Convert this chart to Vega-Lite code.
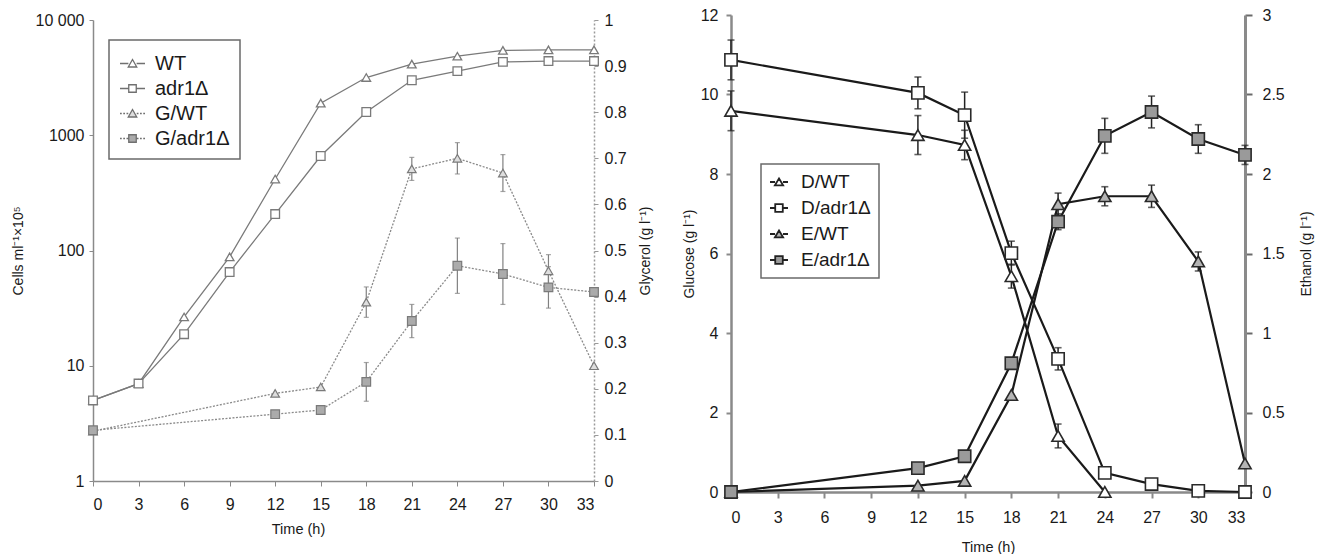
{
  "$schema": "https://vega.github.io/schema/vega-lite/v6.json",
  "background": "white",
  "padding": {"left": 11, "top": 7, "right": 5, "bottom": 5},
  "bounds": "flush",
  "spacing": 137,
  "config": {
    "view": {"stroke": null},
    "font": "Liberation Sans",
    "axis": {"grid": false, "labelFont": "Liberation Sans", "titleFont": "Liberation Sans", "labelColor": "#1a1a1a", "titleColor": "#1a1a1a", "titleFontWeight": "normal", "labelFontSize": 16, "titleFontSize": 15},
    "legend": {"labelFont": "Liberation Sans", "labelColor": "#1a1a1a", "strokeWidth": 1.5}
  },
  "datasets": {
    "left": [
      {"s": "WT", "t": 0, "v": 5}, {"s": "WT", "t": 3, "v": 7}, {"s": "WT", "t": 6, "v": 26.5}, {"s": "WT", "t": 9, "v": 88},
      {"s": "WT", "t": 12, "v": 417}, {"s": "WT", "t": 15, "v": 1900}, {"s": "WT", "t": 18, "v": 3170}, {"s": "WT", "t": 21, "v": 4140},
      {"s": "WT", "t": 24, "v": 4850}, {"s": "WT", "t": 27, "v": 5450}, {"s": "WT", "t": 30, "v": 5500}, {"s": "WT", "t": 33, "v": 5500},
      {"s": "adr1Δ", "t": 0, "v": 5}, {"s": "adr1Δ", "t": 3, "v": 7}, {"s": "adr1Δ", "t": 6, "v": 18.8}, {"s": "adr1Δ", "t": 9, "v": 65},
      {"s": "adr1Δ", "t": 12, "v": 207}, {"s": "adr1Δ", "t": 15, "v": 660}, {"s": "adr1Δ", "t": 18, "v": 1590}, {"s": "adr1Δ", "t": 21, "v": 3000},
      {"s": "adr1Δ", "t": 24, "v": 3600}, {"s": "adr1Δ", "t": 27, "v": 4330}, {"s": "adr1Δ", "t": 30, "v": 4400}, {"s": "adr1Δ", "t": 33, "v": 4400},
      {"s": "G/WT", "t": 0, "v": 0.108}, {"s": "G/WT", "t": 12, "v": 0.19}, {"s": "G/WT", "t": 15, "v": 0.204},
      {"s": "G/WT", "t": 18, "v": 0.388, "lo": 0.355, "hi": 0.421}, {"s": "G/WT", "t": 21, "v": 0.677, "lo": 0.652, "hi": 0.702},
      {"s": "G/WT", "t": 24, "v": 0.70, "lo": 0.666, "hi": 0.734}, {"s": "G/WT", "t": 27, "v": 0.668, "lo": 0.628, "hi": 0.708},
      {"s": "G/WT", "t": 30, "v": 0.456, "lo": 0.421, "hi": 0.491}, {"s": "G/WT", "t": 33, "v": 0.25},
      {"s": "G/adr1Δ", "t": 0, "v": 0.11}, {"s": "G/adr1Δ", "t": 12, "v": 0.145}, {"s": "G/adr1Δ", "t": 15, "v": 0.154},
      {"s": "G/adr1Δ", "t": 18, "v": 0.215, "lo": 0.173, "hi": 0.257}, {"s": "G/adr1Δ", "t": 21, "v": 0.347, "lo": 0.311, "hi": 0.383},
      {"s": "G/adr1Δ", "t": 24, "v": 0.467, "lo": 0.407, "hi": 0.527}, {"s": "G/adr1Δ", "t": 27, "v": 0.449, "lo": 0.383, "hi": 0.515},
      {"s": "G/adr1Δ", "t": 30, "v": 0.42, "lo": 0.375, "hi": 0.465}, {"s": "G/adr1Δ", "t": 33, "v": 0.41}
    ],
    "right": [
      {"s": "D/WT", "t": 0, "v": 9.59, "lo": 9.09, "hi": 10.09}, {"s": "D/WT", "t": 12, "v": 8.98, "lo": 8.49, "hi": 9.47},
      {"s": "D/WT", "t": 15, "v": 8.73, "lo": 8.36, "hi": 9.1}, {"s": "D/WT", "t": 18, "v": 5.43, "lo": 5.13, "hi": 5.73},
      {"s": "D/WT", "t": 21, "v": 1.41, "lo": 1.11, "hi": 1.71}, {"s": "D/WT", "t": 24, "v": 0},
      {"s": "D/adr1Δ", "t": 0, "v": 10.87, "lo": 10.37, "hi": 11.37}, {"s": "D/adr1Δ", "t": 12, "v": 10.04, "lo": 9.64, "hi": 10.44},
      {"s": "D/adr1Δ", "t": 15, "v": 9.48, "lo": 8.9, "hi": 10.06}, {"s": "D/adr1Δ", "t": 18, "v": 6.01, "lo": 5.71, "hi": 6.31},
      {"s": "D/adr1Δ", "t": 21, "v": 3.35, "lo": 3.07, "hi": 3.63}, {"s": "D/adr1Δ", "t": 24, "v": 0.48},
      {"s": "D/adr1Δ", "t": 27, "v": 0.2}, {"s": "D/adr1Δ", "t": 30, "v": 0.03}, {"s": "D/adr1Δ", "t": 33, "v": 0},
      {"s": "E/WT", "t": 0, "v": 0}, {"s": "E/WT", "t": 12, "v": 0.04}, {"s": "E/WT", "t": 15, "v": 0.07}, {"s": "E/WT", "t": 18, "v": 0.61},
      {"s": "E/WT", "t": 21, "v": 1.81, "lo": 1.74, "hi": 1.88}, {"s": "E/WT", "t": 24, "v": 1.86, "lo": 1.8, "hi": 1.92},
      {"s": "E/WT", "t": 27, "v": 1.86, "lo": 1.79, "hi": 1.93}, {"s": "E/WT", "t": 30, "v": 1.45, "lo": 1.39, "hi": 1.51},
      {"s": "E/WT", "t": 33, "v": 0.18},
      {"s": "E/adr1Δ", "t": 0, "v": 0}, {"s": "E/adr1Δ", "t": 12, "v": 0.15}, {"s": "E/adr1Δ", "t": 15, "v": 0.225}, {"s": "E/adr1Δ", "t": 18, "v": 0.81},
      {"s": "E/adr1Δ", "t": 21, "v": 1.70, "lo": 1.65, "hi": 1.75}, {"s": "E/adr1Δ", "t": 24, "v": 2.24, "lo": 2.13, "hi": 2.35},
      {"s": "E/adr1Δ", "t": 27, "v": 2.39, "lo": 2.29, "hi": 2.49}, {"s": "E/adr1Δ", "t": 30, "v": 2.22, "lo": 2.13, "hi": 2.31},
      {"s": "E/adr1Δ", "t": 33, "v": 2.12, "lo": 2.06, "hi": 2.18}
    ]
  },
  "hconcat": [
    {
      "width": 501,
      "height": 466,
      "data": {"name": "left"},
      "encoding": {
        "x": {"field": "t", "type": "quantitative", "scale": {"domain": [0, 33], "nice": false},
          "axis": {"values": [0, 3, 6, 9, 12, 15, 18, 21, 24, 27, 30, 33], "title": "Time (h)", "titleX": 205, "domainColor": "#8a8a8a", "domainWidth": 1.5, "tickColor": "#8a8a8a", "tickSize": 5, "labelPadding": 10, "titlePadding": 10, "titleFontSize": 14.5}}
      },
      "layer": [
        {
          "transform": [{"filter": {"field": "s", "oneOf": ["WT", "adr1Δ"]}}],
          "encoding": {
            "y": {"field": "v", "type": "quantitative", "title": "Cells ml⁻¹×10⁵",
              "scale": {"type": "log", "domain": [1, 10000], "range": [466, 5], "nice": false},
              "axis": {"orient": "left", "values": [1, 10, 100, 1000, 10000], "format": "d", "labelExpr": "datum.value == 10000 ? '10 000' : datum.label", "domainColor": "#8a8a8a", "domainWidth": 1.5, "tickColor": "#8a8a8a", "tickSize": 4, "labelPadding": 5, "titlePadding": 10, "titleFontSize": 14}}
          },
          "layer": [
            {"mark": {"type": "line", "stroke": "#7a7a7a", "strokeWidth": 1.3}, "encoding": {"detail": {"field": "s"}}},
            {"mark": {"type": "point", "filled": true, "fill": "white", "stroke": "#7a7a7a", "strokeWidth": 1.3, "size": 75, "opacity": 1},
              "encoding": {"shape": {"field": "s", "type": "nominal", "scale": {"domain": ["WT", "adr1Δ"], "range": ["triangle-up", "square"]}, "legend": null}}}
          ]
        },
        {
          "transform": [{"filter": {"field": "s", "oneOf": ["G/WT", "G/adr1Δ"]}}],
          "encoding": {
            "y": {"field": "v", "type": "quantitative", "title": "Glycerol (g l⁻¹)",
              "scale": {"domain": [0, 1], "range": [466, 5], "nice": false},
              "axis": {"orient": "right", "values": [0, 0.1, 0.2, 0.3, 0.4, 0.5, 0.6, 0.7, 0.8, 0.9, 1], "format": "~g", "domainColor": "#9a9a9a", "domainDash": [2, 2], "domainWidth": 1.5, "tickColor": "#9a9a9a", "tickSize": 4, "labelPadding": 6, "titlePadding": 12, "titleFontSize": 14, "titleAngle": 270, "titleBaseline": "top"}}
          },
          "layer": [
            {"transform": [{"filter": "isValid(datum.lo)"}], "mark": {"type": "rule", "stroke": "#808080", "strokeWidth": 1.2},
              "encoding": {"y": {"field": "lo", "type": "quantitative", "title": "Glycerol (g l⁻¹)"}, "y2": {"field": "hi"}}},
            {"transform": [{"filter": "isValid(datum.lo)"}], "mark": {"type": "tick", "orient": "horizontal", "size": 5, "thickness": 1.2, "color": "#808080"},
              "encoding": {"y": {"field": "lo", "type": "quantitative", "title": "Glycerol (g l⁻¹)"}}},
            {"transform": [{"filter": "isValid(datum.lo)"}], "mark": {"type": "tick", "orient": "horizontal", "size": 5, "thickness": 1.2, "color": "#808080"},
              "encoding": {"y": {"field": "hi", "type": "quantitative", "title": "Glycerol (g l⁻¹)"}}},
            {"mark": {"type": "line", "stroke": "#8a8a8a", "strokeWidth": 1.3, "strokeDash": [2, 1.5]}, "encoding": {"detail": {"field": "s"}}},
            {"mark": {"type": "point", "filled": true, "stroke": "#7a7a7a", "strokeWidth": 1.2, "size": 75, "opacity": 1},
              "encoding": {
                "shape": {"field": "s", "type": "nominal", "scale": {"domain": ["G/WT", "G/adr1Δ"], "range": ["triangle-up", "square"]}, "legend": null},
                "fill": {"field": "s", "type": "nominal", "scale": {"domain": ["G/WT", "G/adr1Δ"], "range": ["#dedede", "#ababab"]}, "legend": null}}}
          ]
        },
        {
          "mark": {"type": "point", "filled": true, "stroke": "#707070", "strokeWidth": 1.3, "opacity": 0},
          "encoding": {
            "shape": {"field": "s", "type": "nominal",
              "scale": {"domain": ["WT", "adr1Δ", "G/WT", "G/adr1Δ"],
                "range": [
                  "M-1,0H-0.33M0.33,0H1M0,-0.32L0.34,0.28L-0.34,0.28Z",
                  "M-1,0H-0.3M0.3,0H1M-0.3,-0.3H0.3V0.3H-0.3Z",
                  "M-1,0H-0.86M-0.74,0H-0.6M-0.48,0H-0.34M0.34,0H0.48M0.6,0H0.74M0.86,0H1M0,-0.32L0.34,0.28L-0.34,0.28Z",
                  "M-1,0H-0.86M-0.74,0H-0.6M-0.48,0H-0.32M0.32,0H0.48M0.6,0H0.74M0.86,0H1M-0.3,-0.3H0.3V0.3H-0.3Z"
                ]},
              "legend": {"title": null, "orient": "none", "legendX": 16, "legendY": 25, "padding": 10, "strokeColor": "#6a6a6a", "fillColor": "white", "symbolSize": 625, "symbolStrokeWidth": 1.3, "labelFontSize": 20, "rowPadding": 1, "labelOffset": 9, "labelLimit": 200}},
            "color": {"field": "s", "type": "nominal",
              "scale": {"domain": ["WT", "adr1Δ", "G/WT", "G/adr1Δ"], "range": ["white", "white", "#dedede", "#ababab"]},
              "legend": {"title": null, "orient": "none", "legendX": 16, "legendY": 25, "padding": 10, "strokeColor": "#6a6a6a", "fillColor": "white", "symbolSize": 625, "symbolStrokeWidth": 1.3, "labelFontSize": 20, "rowPadding": 1, "labelOffset": 9, "labelLimit": 200}}
          }
        }
      ],
      "resolve": {"scale": {"y": "independent", "shape": "independent", "fill": "independent", "color": "independent"}}
    },
    {
      "width": 514,
      "height": 477,
      "data": {"name": "right"},
      "encoding": {
        "x": {"field": "t", "type": "quantitative", "scale": {"domain": [0, 33], "nice": false},
          "axis": {"values": [0, 3, 6, 9, 12, 15, 18, 21, 24, 27, 30, 33], "title": "Time (h)", "domainColor": "#8a8a8a", "domainWidth": 2.5, "tickColor": "#8a8a8a", "tickWidth": 2, "tickSize": 6, "labelPadding": 11, "titlePadding": 15, "titleFontSize": 14.5}}
      },
      "layer": [
        {
          "transform": [{"filter": {"field": "s", "oneOf": ["D/WT", "D/adr1Δ"]}}],
          "encoding": {
            "y": {"field": "v", "type": "quantitative", "title": "Glucose (g l⁻¹)",
              "scale": {"domain": [0, 12], "nice": false},
              "axis": {"orient": "left", "values": [0, 2, 4, 6, 8, 10, 12], "domainColor": "#8a8a8a", "domainWidth": 2.5, "tickColor": "#8a8a8a", "tickWidth": 2, "tickSize": 5, "labelPadding": 8, "titlePadding": 4, "titleFontSize": 14}}
          },
          "layer": [
            {"transform": [{"filter": "isValid(datum.lo)"}], "mark": {"type": "rule", "stroke": "#222", "strokeWidth": 1.5},
              "encoding": {"y": {"field": "lo", "type": "quantitative", "title": "Glucose (g l⁻¹)"}, "y2": {"field": "hi"}}},
            {"transform": [{"filter": "isValid(datum.lo)"}], "mark": {"type": "tick", "orient": "horizontal", "size": 7, "thickness": 1.6, "color": "#222"},
              "encoding": {"y": {"field": "lo", "type": "quantitative", "title": "Glucose (g l⁻¹)"}}},
            {"transform": [{"filter": "isValid(datum.lo)"}], "mark": {"type": "tick", "orient": "horizontal", "size": 7, "thickness": 1.6, "color": "#222"},
              "encoding": {"y": {"field": "hi", "type": "quantitative", "title": "Glucose (g l⁻¹)"}}},
            {"mark": {"type": "line", "stroke": "#1a1a1a", "strokeWidth": 2.2}, "encoding": {"detail": {"field": "s"}}},
            {"mark": {"type": "point", "filled": true, "fill": "white", "stroke": "#2a2a2a", "strokeWidth": 1.6, "size": 150, "opacity": 1},
              "encoding": {"shape": {"field": "s", "type": "nominal", "scale": {"domain": ["D/WT", "D/adr1Δ"], "range": ["triangle-up", "square"]}, "legend": null}}}
          ]
        },
        {
          "transform": [{"filter": {"field": "s", "oneOf": ["E/WT", "E/adr1Δ"]}}],
          "encoding": {
            "y": {"field": "v", "type": "quantitative", "title": "Ethanol (g l⁻¹)",
              "scale": {"domain": [0, 3], "nice": false},
              "axis": {"orient": "right", "values": [0, 0.5, 1, 1.5, 2, 2.5, 3], "format": "~g", "domainColor": "#8a8a8a", "domainWidth": 3, "tickColor": "#6a6a6a", "tickWidth": 2, "tickSize": 7, "labelPadding": 10, "titlePadding": 15, "titleFontSize": 14, "titleAngle": 270, "titleBaseline": "top"}}
          },
          "layer": [
            {"transform": [{"filter": "isValid(datum.lo)"}], "mark": {"type": "rule", "stroke": "#222", "strokeWidth": 1.5},
              "encoding": {"y": {"field": "lo", "type": "quantitative", "title": "Ethanol (g l⁻¹)"}, "y2": {"field": "hi"}}},
            {"transform": [{"filter": "isValid(datum.lo)"}], "mark": {"type": "tick", "orient": "horizontal", "size": 7, "thickness": 1.6, "color": "#222"},
              "encoding": {"y": {"field": "lo", "type": "quantitative", "title": "Ethanol (g l⁻¹)"}}},
            {"transform": [{"filter": "isValid(datum.lo)"}], "mark": {"type": "tick", "orient": "horizontal", "size": 7, "thickness": 1.6, "color": "#222"},
              "encoding": {"y": {"field": "hi", "type": "quantitative", "title": "Ethanol (g l⁻¹)"}}},
            {"mark": {"type": "line", "stroke": "#1a1a1a", "strokeWidth": 2.2}, "encoding": {"detail": {"field": "s"}}},
            {"mark": {"type": "point", "filled": true, "stroke": "#2a2a2a", "strokeWidth": 1.6, "size": 150, "opacity": 1},
              "encoding": {
                "shape": {"field": "s", "type": "nominal", "scale": {"domain": ["E/WT", "E/adr1Δ"], "range": ["triangle-up", "square"]}, "legend": null},
                "fill": {"field": "s", "type": "nominal", "scale": {"domain": ["E/WT", "E/adr1Δ"], "range": ["#b4b4b4", "#9a9a9a"]}, "legend": null}}}
          ]
        },
        {
          "mark": {"type": "point", "filled": true, "stroke": "#222", "strokeWidth": 1.8, "opacity": 0},
          "encoding": {
            "shape": {"field": "s", "type": "nominal",
              "scale": {"domain": ["D/WT", "D/adr1Δ", "E/WT", "E/adr1Δ"],
                "range": [
                  "M-1,0H-0.44M0.44,0H1M0,-0.4L0.46,0.38L-0.46,0.38Z",
                  "M-1,0H-0.42M0.42,0H1M-0.42,-0.42H0.42V0.42H-0.42Z",
                  "M-1,0H-0.44M0.44,0H1M0,-0.4L0.46,0.38L-0.46,0.38Z",
                  "M-1,0H-0.42M0.42,0H1M-0.42,-0.42H0.42V0.42H-0.42Z"
                ]},
              "legend": {"title": null, "orient": "none", "legendX": 30, "legendY": 149, "padding": 8, "strokeColor": "#6a6a6a", "fillColor": "white", "symbolSize": 324, "symbolStrokeWidth": 1.8, "labelFontSize": 19, "rowPadding": 6, "labelOffset": 12, "labelLimit": 200}},
            "color": {"field": "s", "type": "nominal",
              "scale": {"domain": ["D/WT", "D/adr1Δ", "E/WT", "E/adr1Δ"], "range": ["white", "white", "#b4b4b4", "#9a9a9a"]},
              "legend": {"title": null, "orient": "none", "legendX": 30, "legendY": 149, "padding": 8, "strokeColor": "#6a6a6a", "fillColor": "white", "symbolSize": 324, "symbolStrokeWidth": 1.8, "labelFontSize": 19, "rowPadding": 6, "labelOffset": 12, "labelLimit": 200}}
          }
        }
      ],
      "resolve": {"scale": {"y": "independent", "shape": "independent", "fill": "independent", "color": "independent"}}
    }
  ]
}
